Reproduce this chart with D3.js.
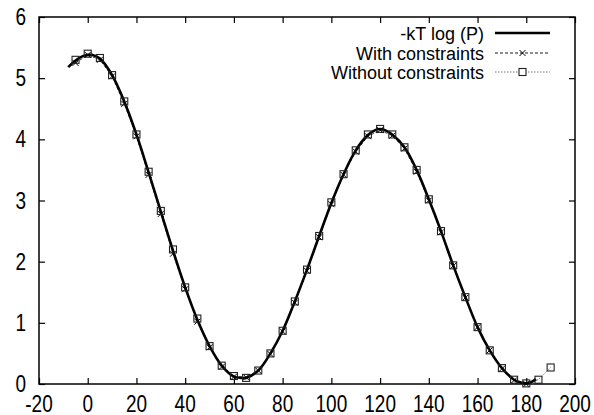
<!DOCTYPE html>
<html>
<head>
<meta charset="utf-8">
<script src="https://cdn.jsdelivr.net/npm/d3@7"></script>
<style>
  body { margin: 0; background: #fff; }
  svg text { font-family: "Liberation Sans", Arial, sans-serif; fill: #000; }
</style>
</head>
<body>
<svg id="chart" width="594" height="415"></svg>
<script>
// -kT log(P) curve
const curveX = [-8, -5, -2, 0, 2, 5, 10, 15, 20, 25, 30, 35, 40, 45, 50, 55, 60, 63, 65, 70, 75, 80, 85, 90, 95, 100, 105, 110, 115, 118, 120, 122, 125, 130, 135, 140, 145, 150, 155, 160, 165, 170, 175, 178, 180, 182, 184];
const curveY = [5.18, 5.29, 5.36, 5.38, 5.38, 5.32, 5.05, 4.62, 4.08, 3.46, 2.82, 2.18, 1.58, 1.05, 0.62, 0.3, 0.12, 0.1, 0.1, 0.22, 0.5, 0.87, 1.35, 1.87, 2.42, 2.96, 3.43, 3.82, 4.07, 4.15, 4.17, 4.15, 4.08, 3.87, 3.5, 3.02, 2.5, 1.94, 1.42, 0.93, 0.55, 0.26, 0.07, 0.02, 0.01, 0.03, 0.08];

// With constraints (x markers)
const withX = [-5, 0, 5, 10, 15, 20, 25, 30, 35, 40, 45, 50, 55, 60, 65, 70, 75, 80, 85, 90, 95, 100, 105, 110, 115, 120, 125, 130, 135, 140, 145, 150, 155, 160, 165, 170, 175, 180];
const withY = [5.25, 5.38, 5.3, 5.03, 4.58, 4.05, 3.42, 2.78, 2.13, 1.55, 1.02, 0.6, 0.28, 0.12, 0.11, 0.22, 0.49, 0.86, 1.33, 1.85, 2.4, 2.94, 3.42, 3.8, 4.05, 4.15, 4.06, 3.85, 3.47, 3.0, 2.48, 1.93, 1.41, 0.93, 0.55, 0.25, 0.06, 0.0];

// Without constraints (square markers)
const withoutX = [-5, 0, 5, 10, 15, 20, 25, 30, 35, 40, 45, 50, 55, 60, 65, 70, 75, 80, 85, 90, 95, 100, 105, 110, 115, 120, 125, 130, 135, 140, 145, 150, 155, 160, 165, 170, 175, 180, 185, 190];
const withoutY = [5.3, 5.4, 5.33, 5.05, 4.62, 4.08, 3.47, 2.83, 2.2, 1.58, 1.07, 0.62, 0.3, 0.13, 0.1, 0.22, 0.5, 0.87, 1.35, 1.87, 2.42, 2.97, 3.43, 3.82, 4.08, 4.17, 4.08, 3.87, 3.5, 3.02, 2.5, 1.94, 1.42, 0.93, 0.55, 0.26, 0.07, 0.01, 0.07, 0.27];

const xTicks = [-20, 0, 20, 40, 60, 80, 100, 120, 140, 160, 180, 200];
const yTicks = [0, 1, 2, 3, 4, 5, 6];
const legendNames = ['-kT log (P)', 'With constraints', 'Without constraints'];

const svg = d3.select('#chart');
const plotL = 39, plotR = 575, plotT = 17, plotB = 384;

const x = d3.scaleLinear().domain([-20, 200]).range([plotL, plotR]);
const y = d3.scaleLinear().domain([0, 6]).range([plotB, plotT]);

// frame
svg.append('rect')
  .attr('x', plotL).attr('y', plotT)
  .attr('width', plotR - plotL).attr('height', plotB - plotT)
  .attr('fill', 'none').attr('stroke', '#000').attr('stroke-width', 1.5);

// inward ticks on all four sides, labels drawn separately (glyphs are a bit tall in the original)
const tl = 6;
svg.append('g').attr('transform', `translate(0,${plotB})`)
  .call(d3.axisBottom(x).tickValues(xTicks).tickSize(-tl).tickFormat(''))
  .call(g => g.select('.domain').remove());
svg.append('g').attr('transform', `translate(0,${plotT})`)
  .call(d3.axisTop(x).tickValues(xTicks).tickSize(-tl).tickFormat(''))
  .call(g => g.select('.domain').remove());
svg.append('g').attr('transform', `translate(${plotL},0)`)
  .call(d3.axisLeft(y).tickValues(yTicks).tickSize(-tl).tickFormat(''))
  .call(g => g.select('.domain').remove());
svg.append('g').attr('transform', `translate(${plotR},0)`)
  .call(d3.axisRight(y).tickValues(yTicks).tickSize(-tl).tickFormat(''))
  .call(g => g.select('.domain').remove());
svg.selectAll('.tick line').attr('stroke', '#000').attr('stroke-width', 1.2);

const fs = 19, stretch = 1.22;
svg.append('g').selectAll('text').data(xTicks).join('text')
  .attr('transform', d => `translate(${x(d)},${plotB + 28}) scale(1,${stretch})`)
  .attr('text-anchor', 'middle').attr('font-size', fs)
  .text(d => d);
svg.append('g').selectAll('text').data(yTicks).join('text')
  .attr('transform', d => `translate(${plotL - 13},${y(d) + 8}) scale(1,${stretch})`)
  .attr('text-anchor', 'end').attr('font-size', fs)
  .text(d => d);

const line = d3.line().x(d => x(d[0])).y(d => y(d[1]));

// without constraints: dotted line + squares
const withoutPts = withoutX.map((v, i) => [v, withoutY[i]]);
svg.append('path').datum(withoutPts)
  .attr('d', line.curve(d3.curveLinear))
  .attr('fill', 'none').attr('stroke', '#555').attr('stroke-width', 0.8).attr('stroke-dasharray', '1.5,1.5');

// with constraints: dashed line + x markers
const withPts = withX.map((v, i) => [v, withY[i]]);
svg.append('path').datum(withPts)
  .attr('d', line.curve(d3.curveLinear))
  .attr('fill', 'none').attr('stroke', '#222').attr('stroke-width', 0.9).attr('stroke-dasharray', '3,2');

// main curve
const curvePts = curveX.map((v, i) => [v, curveY[i]]);
svg.append('path').datum(curvePts)
  .attr('d', line.curve(d3.curveCatmullRom))
  .attr('fill', 'none').attr('stroke', '#000').attr('stroke-width', 2.6);

function crossPath(cx, cy, s) {
  return `M${cx - s},${cy - s}L${cx + s},${cy + s}M${cx - s},${cy + s}L${cx + s},${cy - s}`;
}

svg.append('g').selectAll('path').data(withPts).join('path')
  .attr('d', d => crossPath(x(d[0]), y(d[1]), 3))
  .attr('stroke', '#000').attr('stroke-width', 1);

svg.append('g').selectAll('rect').data(withoutPts).join('rect')
  .attr('x', d => x(d[0]) - 3.5).attr('y', d => y(d[1]) - 3.5)
  .attr('width', 7).attr('height', 7)
  .attr('fill', 'none').attr('stroke', '#222').attr('stroke-width', 1.1);

// legend
const legend = svg.append('g');
const rowY = [33, 53, 72];
const textRight = 484, lx0 = 495, lx1 = 550;
legendNames.forEach((name, i) => {
  legend.append('text')
    .attr('x', textRight).attr('y', rowY[i] + 6.5)
    .attr('text-anchor', 'end')
    .attr('font-size', 18).text(name);
  const ln = legend.append('line')
    .attr('x1', lx0).attr('x2', lx1).attr('y1', rowY[i]).attr('y2', rowY[i])
    .attr('stroke', '#000');
  if (i === 0) ln.attr('stroke-width', 2.6);
  if (i === 1) ln.attr('stroke-width', 0.9).attr('stroke-dasharray', '3,2');
  if (i === 2) ln.attr('stroke-width', 0.8).attr('stroke', '#555').attr('stroke-dasharray', '1.5,1.5');
  const mx = (lx0 + lx1) / 2;
  if (i === 1) {
    legend.append('path').attr('d', crossPath(mx, rowY[i], 3)).attr('stroke', '#000').attr('stroke-width', 1);
  }
  if (i === 2) {
    legend.append('rect').attr('x', mx - 3.5).attr('y', rowY[i] - 3.5).attr('width', 7).attr('height', 7)
      .attr('fill', '#fff').attr('stroke', '#222').attr('stroke-width', 1.1);
  }
});
</script>
</body>
</html>
